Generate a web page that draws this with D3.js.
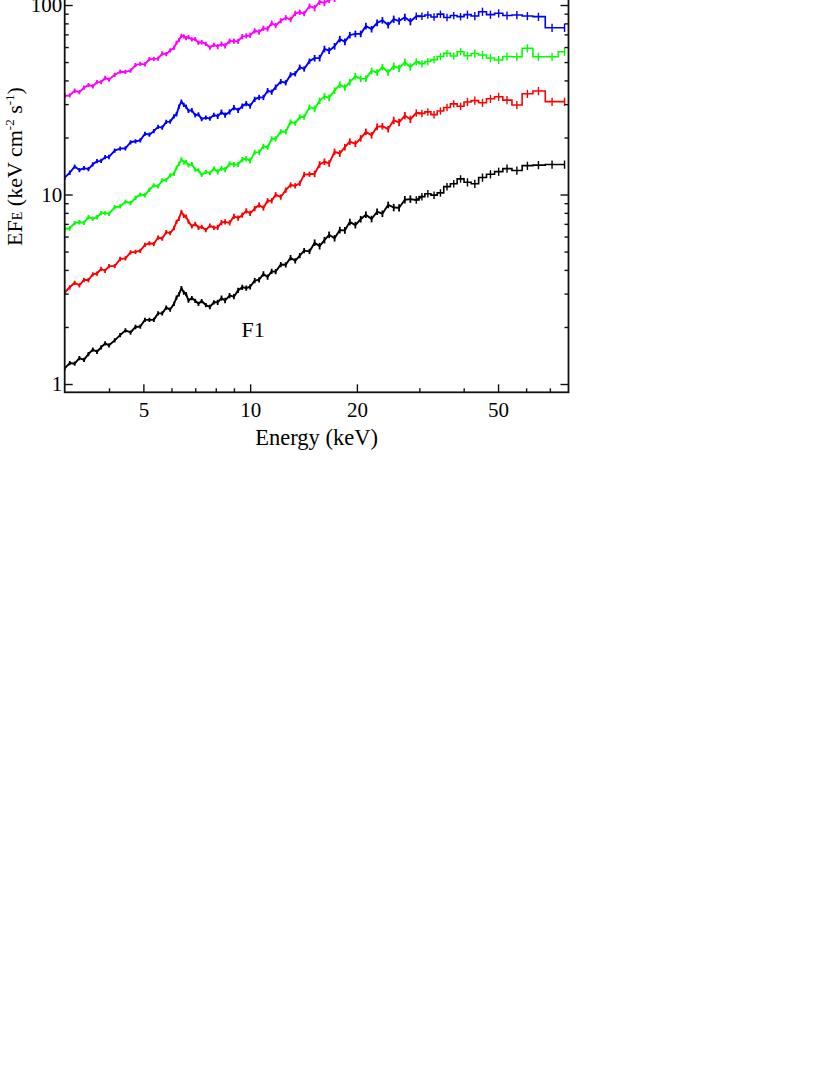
<!DOCTYPE html>
<html lang="en">
<head>
<meta charset="UTF-8">
<title>Unfolded spectra F1-F5</title>
<script src="https://d3js.org/d3.v7.min.js"></script>
<style>
  body { margin: 0; background: #fff; }
  svg { display: block; font-family: "Liberation Serif", "Times New Roman", serif; }
  .tick line { stroke: #111; stroke-width: 1.4px; }
</style>
</head>
<body>
<svg id="chart" width="830" height="1075"></svg>
<script>
// bin centres (keV)
const energy = [3.0, 3.1, 3.2, 3.3, 3.4, 3.5, 3.6, 3.7, 3.8, 3.9,
  4.0, 4.15, 4.3, 4.45, 4.6, 4.75, 4.9, 5.05, 5.2, 5.35,
  5.5, 5.65, 5.8, 5.95, 6.1, 6.2, 6.3, 6.4, 6.5, 6.6,
  6.7, 6.85, 7.0, 7.15, 7.3, 7.5, 7.7, 7.9, 8.1, 8.3,
  8.5, 8.75, 9.0, 9.25, 9.5, 9.75, 10.0, 10.3, 10.6, 10.9,
  11.2, 11.5, 11.8, 12.2, 12.6, 13.0, 13.4, 13.8, 14.2, 14.7,
  15.2, 15.7, 16.2, 16.7, 17.3, 17.9, 18.5, 19.1, 19.8, 20.5,
  21.2, 22.0, 22.8, 23.6, 24.5, 25.4, 26.3, 27.3, 28.3, 29.4,
  30.5, 31.7, 33.0, 34.4, 35.9, 37.5, 39.2, 41.0, 43.0, 45.2,
  47.6, 50.2, 53.0, 56.5, 60.5, 65.0, 71.0, 77.0];

// EF_E (keV cm^-2 s^-1), one value per bin
const fluxF1 = [1.21, 1.29, 1.28, 1.37, 1.34, 1.44, 1.52, 1.48, 1.56, 1.64,
  1.60, 1.70, 1.81, 1.92, 1.87, 2.00, 2.01, 2.18, 2.18, 2.18,
  2.36, 2.36, 2.53, 2.47, 2.65, 2.86, 2.97, 3.21, 3.04, 2.98,
  2.76, 2.84, 2.75, 2.65, 2.74, 2.61, 2.55, 2.70, 2.70, 2.84,
  2.76, 2.93, 2.89, 3.12, 3.24, 3.21, 3.26, 3.51, 3.55, 3.81,
  3.67, 3.93, 3.92, 4.27, 4.26, 4.64, 4.47, 4.76, 5.06, 5.01,
  5.57, 5.34, 5.75, 6.13, 5.88, 6.49, 6.47, 7.17, 6.90, 7.41,
  7.83, 7.43, 8.11, 7.92, 8.82, 8.54, 8.51, 9.39, 9.46, 9.36,
  9.75, 10.1, 9.92, 10.2, 11.0, 11.4, 12.1, 11.6, 11.4, 12.3,
  12.8, 13.2, 13.7, 13.4, 14.2, 14.3, 14.4, 14.4];

const fluxF2 = [3.04, 3.24, 3.42, 3.32, 3.54, 3.54, 3.79, 3.83, 4.05, 3.96,
  4.19, 4.19, 4.57, 4.60, 4.95, 4.98, 5.05, 5.42, 5.53, 5.48,
  5.93, 5.86, 6.33, 6.26, 6.65, 7.17, 7.45, 8.11, 7.72, 7.65,
  7.20, 6.79, 6.99, 6.68, 6.75, 6.49, 6.85, 6.68, 6.71, 7.12,
  7.17, 7.08, 7.67, 7.52, 7.78, 8.19, 7.96, 8.43, 8.81, 8.49,
  9.28, 9.26, 9.98, 9.70, 10.55, 11.23, 11.12, 11.45, 12.74, 12.8,
  12.86, 14.42, 14.89, 14.59, 16.8, 16.46, 17.78, 19.03, 18.53, 19.8,
  21.42, 20.54, 22.76, 22.93, 22.14, 24.62, 24.01, 26.1, 24.93, 26.93,
  26.8, 27.3, 26.4, 27.6, 28.8, 30.1, 29.2, 30.8, 31.3, 30.5,
  32.0, 32.8, 31.5, 29.7, 34.0, 35.2, 30.9, 30.9];

const fluxF3 = [6.60, 6.62, 7.06, 7.14, 7.08, 7.59, 7.44, 7.59, 7.98, 7.98,
  7.91, 8.57, 8.65, 9.17, 9.02, 9.60, 10.0, 9.90, 10.6, 11.18,
  11.03, 11.88, 11.93, 12.63, 12.84, 13.84, 14.5, 15.35, 14.8, 14.85,
  14.26, 14.48, 13.52, 13.43, 12.69, 13.16, 12.97, 13.7, 13.18, 13.74,
  13.52, 14.52, 14.4, 14.41, 15.3, 15.45, 15.04, 16.69, 16.73, 17.95,
  17.75, 19.67, 19.7, 21.42, 21.44, 24.13, 23.81, 25.65, 25.61, 28.91,
  28.32, 31.21, 32.96, 32.4, 35.35, 37.96, 36.76, 39.2, 42.12, 40.77,
  40.9, 44.91, 44.06, 47.01, 44.06, 47.53, 46.35, 49.92, 47.14, 50.18,
  49.0, 50.3, 51.5, 53.5, 55.6, 53.8, 56.7, 54.0, 55.5, 54.5,
  52.5, 51.3, 53.5, 53.3, 59.1, 53.3, 53.3, 56.7];

const fluxF4 = [12.28, 13.03, 14.04, 13.46, 13.77, 13.62, 14.44, 14.99, 15.05, 15.76,
  15.78, 17.03, 17.47, 17.54, 18.87, 19.1, 19.31, 20.91, 20.69, 21.6,
  22.75, 22.54, 24.17, 24.26, 25.86, 26.53, 29.09, 30.91, 29.7, 29.09,
  27.62, 27.85, 26.17, 26.52, 24.99, 25.45, 25.15, 26.32, 25.84, 27.19,
  26.26, 27.3, 28.74, 27.83, 29.29, 30.19, 29.29, 31.82, 32.52, 32.54,
  35.33, 34.69, 36.87, 39.45, 38.9, 42.84, 43.36, 46.97, 45.98, 50.59,
  52.42, 52.48, 58.66, 57.43, 60.59, 66.14, 63.92, 69.36, 70.4, 70.42,
  77.48, 74.59, 80.58, 83.02, 78.34, 84.15, 82.27, 86.11, 81.77, 87.31,
  87.3, 88.6, 86.5, 89.5, 86.0, 88.0, 86.8, 89.0, 87.5, 92.2,
  89.0, 90.4, 88.0, 88.6, 87.5, 86.8, 75.9, 75.9];

const fluxF5 = [33.13, 33.36, 35.29, 34.69, 36.66, 37.84, 37.24, 39.19, 39.2, 41.21,
  40.38, 42.82, 44.47, 44.35, 45.08, 48.14, 48.88, 48.61, 51.82, 52.0,
  52.14, 55.49, 55.04, 57.57, 59.5, 63.13, 65.34, 68.68, 68.3, 66.83,
  67.67, 65.84, 66.16, 63.21, 63.63, 62.42, 59.58, 61.71, 60.39, 62.22,
  60.96, 64.57, 64.5, 64.39, 68.14, 68.68, 69.09, 73.13, 72.07, 75.38,
  74.87, 80.24, 77.91, 82.62, 85.68, 83.71, 90.27, 91.61, 90.11, 98.57,
  96.43, 104.1, 102.7, 106.5, 108, 113, 114, 119, 120, 125,
  128, 132, 136, 140, 143, 146, 149, 152, 155, 158,
  160, 162, 164, 166, 168, 170, 171, 172, 173, 174,
  175, 176, 176, 176, 175, 174, 170, 168];

// relative 1-sigma error, by lower band edge (keV)
const errBands = [[3, 0.026], [8, 0.032], [15, 0.04], [25, 0.045], [40, 0.05]];

const spectra = [
  { name: "F1", color: "#000000", flux: fluxF1 },
  { name: "F2", color: "#ff0000", flux: fluxF2 },
  { name: "F3", color: "#00ff00", flux: fluxF3 },
  { name: "F4", color: "#0000ff", flux: fluxF4 },
  { name: "F5", color: "#ff00ff", flux: fluxF5 }
];

const xMajor = [5, 10, 20, 50];
const xMinor = [4, 6, 7, 8, 9, 30, 40, 60, 70];
const yMajor = [1, 10, 100];
const yMinor = [2, 3, 4, 5, 6, 7, 8, 9, 20, 30, 40, 50, 60, 70, 80, 90, 200, 300];

// above this energy the wide bins are drawn as histogram steps
const stepFrom = 29;

// plot box: the top of the figure lies above the visible page
const plotLeft = 64.7, plotRight = 568.5, plotBottom = 392.3, plotTop = -85.4;

const x = d3.scaleLog().domain([3, 79]).range([plotLeft, plotRight]);
const y = d3.scaleLog().domain([0.9042, 300]).range([plotBottom, plotTop]);

const svg = d3.select("#chart");
svg.append("rect").attr("width", 830).attr("height", 1075).attr("fill", "#fff");

svg.append("clipPath").attr("id", "plotclip")
  .append("rect")
  .attr("x", plotLeft).attr("y", plotTop)
  .attr("width", plotRight - plotLeft).attr("height", plotBottom - plotTop);

const relErr = e => {
  let r = errBands[0][1];
  errBands.forEach(b => { if (e >= b[0]) r = b[1]; });
  return r;
};

const fineLine = d3.line().x(d => x(d.e)).y(d => y(d.v));
const stepLine = d3.line().x(d => x(d.e)).y(d => y(d.v)).curve(d3.curveStep);

const plot = svg.append("g").attr("clip-path", "url(#plotclip)");

spectra.forEach(s => {
  const pts = energy.map((e, i) => ({ e: e, v: s.flux[i], r: relErr(e) }));
  const g = plot.append("g");

  g.selectAll("line")
    .data(pts)
    .enter()
    .append("line")
    .attr("x1", d => x(d.e))
    .attr("x2", d => x(d.e))
    .attr("y1", d => y(d.v * (1 - d.r)))
    .attr("y2", d => y(d.v * (1 + d.r)))
    .attr("stroke", s.color)
    .attr("stroke-width", d => d.e < stepFrom ? 1.8 : 1.4);

  g.append("path")
    .datum(pts.filter(d => d.e <= stepFrom + 2))
    .attr("d", fineLine)
    .attr("fill", "none")
    .attr("stroke", s.color)
    .attr("stroke-width", 1.9)
    .attr("stroke-linejoin", "round");

  g.append("path")
    .datum(pts.filter(d => d.e >= stepFrom))
    .attr("d", stepLine)
    .attr("fill", "none")
    .attr("stroke", s.color)
    .attr("stroke-width", 1.6);
});

// axes, ticks pointing inward
const styleAxis = g => {
  g.select(".domain").remove();
  g.selectAll("text").attr("font-size", 21).attr("fill", "#000")
    .attr("font-family", "'Liberation Serif', 'Times New Roman', serif");
};

svg.append("g")
  .attr("transform", `translate(0,${plotBottom})`)
  .call(d3.axisBottom(x).tickValues(xMajor).tickSize(-8).tickPadding(10).tickFormat(d3.format("d")))
  .call(styleAxis);
svg.append("g")
  .attr("transform", `translate(0,${plotBottom})`)
  .call(d3.axisBottom(x).tickValues(xMinor).tickSize(-4).tickFormat(""))
  .call(styleAxis);
svg.append("g")
  .attr("transform", `translate(0,${plotTop})`)
  .call(d3.axisTop(x).tickValues(xMajor).tickSize(-8).tickFormat(""))
  .call(styleAxis);
svg.append("g")
  .attr("transform", `translate(0,${plotTop})`)
  .call(d3.axisTop(x).tickValues(xMinor).tickSize(-4).tickFormat(""))
  .call(styleAxis);

svg.append("g")
  .attr("transform", `translate(${plotLeft},0)`)
  .call(d3.axisLeft(y).tickValues(yMajor).tickSize(-8).tickPadding(2.5).tickFormat(d3.format("d")))
  .call(styleAxis);
svg.append("g")
  .attr("transform", `translate(${plotLeft},0)`)
  .call(d3.axisLeft(y).tickValues(yMinor).tickSize(-4).tickFormat(""))
  .call(styleAxis);
svg.append("g")
  .attr("transform", `translate(${plotRight},0)`)
  .call(d3.axisRight(y).tickValues(yMajor).tickSize(-8).tickFormat(""))
  .call(styleAxis);
svg.append("g")
  .attr("transform", `translate(${plotRight},0)`)
  .call(d3.axisRight(y).tickValues(yMinor).tickSize(-4).tickFormat(""))
  .call(styleAxis);

// frame
svg.append("rect")
  .attr("x", plotLeft).attr("y", plotTop)
  .attr("width", plotRight - plotLeft).attr("height", plotBottom - plotTop)
  .attr("fill", "none")
  .attr("stroke", "#111")
  .attr("stroke-width", 1.8);

// axis titles
svg.append("text")
  .attr("x", (plotLeft + plotRight) / 2)
  .attr("y", 445)
  .attr("text-anchor", "middle")
  .attr("font-size", 22.5)
  .text("Energy (keV)");

const yTitle = svg.append("text")
  .attr("transform", "translate(22,166.5) rotate(-90)")
  .attr("text-anchor", "middle")
  .attr("font-size", 22);
yTitle.append("tspan").text("EF");
yTitle.append("tspan").attr("font-size", 14).text("E");
yTitle.append("tspan").text(" (keV cm");
yTitle.append("tspan").attr("font-size", 13).attr("dy", -8).text("-2");
yTitle.append("tspan").attr("dy", 8).text(" s");
yTitle.append("tspan").attr("font-size", 13).attr("dy", -8).text("-1");
yTitle.append("tspan").attr("dy", 8).text(")");

// series label
svg.append("text")
  .attr("x", x(10.2))
  .attr("y", y(1.77))
  .attr("text-anchor", "middle")
  .attr("font-size", 22)
  .text("F1");
</script>
</body>
</html>
